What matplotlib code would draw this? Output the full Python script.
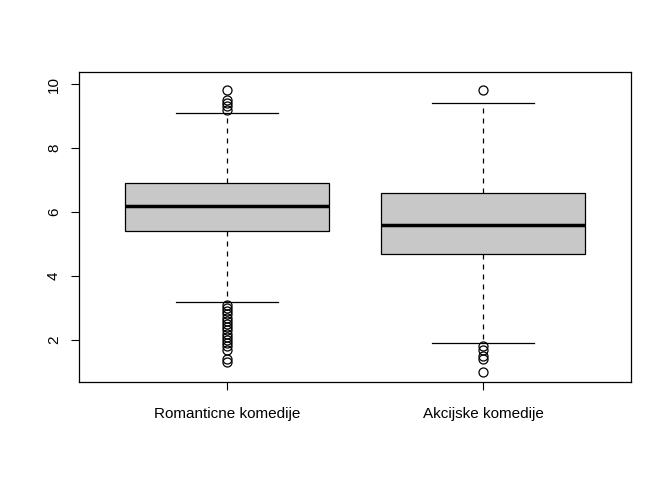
import matplotlib
matplotlib.use("Agg")
import matplotlib.pyplot as plt

labels = ["Romanticne komedije", "Akcijske komedije"]
q1 = [5.4, 4.7]
med = [6.2, 5.6]
q3 = [6.9, 6.6]
whislo = [3.2, 1.9]
whishi = [9.1, 9.4]
fliers = [
    [9.2, 9.3, 9.4, 9.5, 9.8, 3.1, 3.0, 2.9, 2.8, 2.7, 2.6, 2.5, 2.4, 2.3,
     2.2, 2.1, 2.0, 1.9, 1.8, 1.7, 1.4, 1.3],
    [9.8, 1.8, 1.7, 1.5, 1.4, 1.0],
]

stats = [dict(label=labels[i], q1=q1[i], med=med[i], q3=q3[i],
              whislo=whislo[i], whishi=whishi[i], fliers=fliers[i])
         for i in range(2)]

plt.rcParams["font.family"] = "Liberation Sans"
fig = plt.figure(figsize=(6.72, 4.8), dpi=100)
ax = fig.add_axes([79 / 672, 1 - 382 / 480, 552 / 672, 310 / 480])
ax.bxp(stats, positions=[1, 2], widths=0.8, patch_artist=True,
       boxprops=dict(facecolor="#c8c8c8", edgecolor="black", linewidth=0.9),
       medianprops=dict(color="black", linewidth=2.5),
       whiskerprops=dict(color="black", linestyle=(0, (4, 4)), linewidth=0.9),
       capprops=dict(color="black", linewidth=0.9),
       capwidths=0.4,
       flierprops=dict(marker="o", markerfacecolor="none",
                       markeredgecolor="black", markersize=6.5, markeredgewidth=0.9))
ax.set_xlim(1 - 148 / 256, 2 + 148 / 256)
ax.set_ylim(0.69, 10.375)
ax.set_yticks([2, 4, 6, 8, 10])
ax.set_yticklabels(["2", "4", "6", "8", "10"], rotation=90, va="center")
ax.tick_params(labelsize=11, length=6, width=0.8, pad=7)
ax.tick_params(axis="x", pad=12)
for s in ax.spines.values():
    s.set_linewidth(0.9)
fig.savefig("out.png", dpi=100)
